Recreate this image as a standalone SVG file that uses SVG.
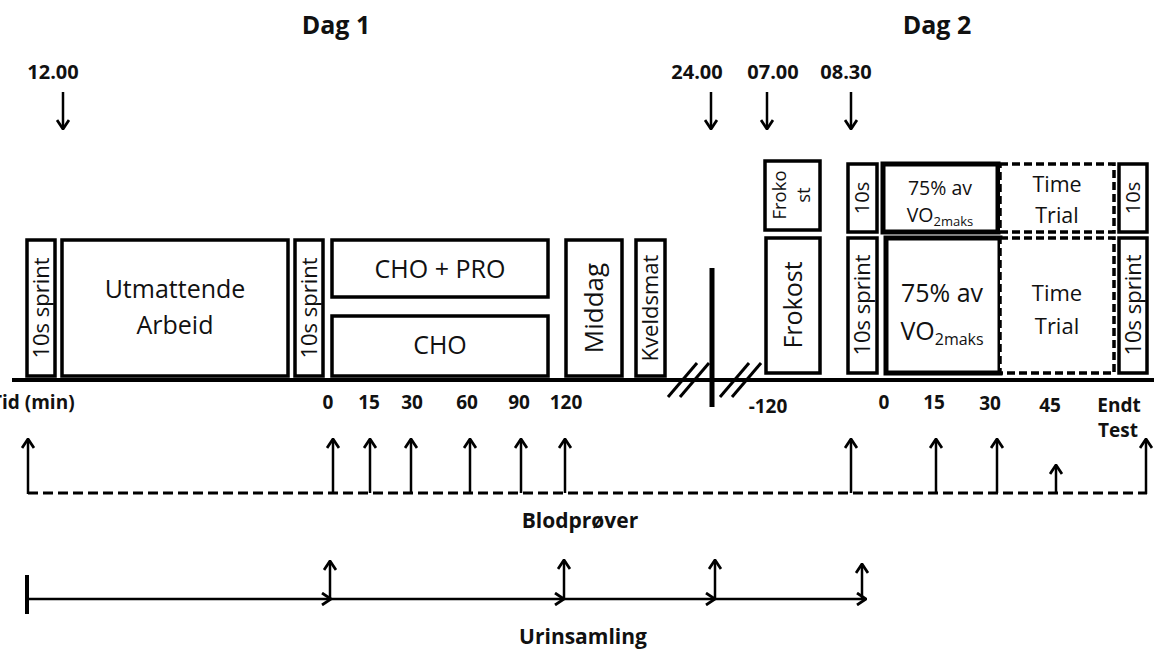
<svg xmlns="http://www.w3.org/2000/svg" width="1154" height="650" viewBox="0 0 1154 650">
<style>
.bx{fill:#fff;stroke:#000;stroke-width:3.5}
.bxt{fill:#fff;stroke:#000;stroke-width:5}
.dsh{fill:#fff;stroke:#000;stroke-width:3.5;stroke-dasharray:8 4}
.t{font-family:"Open Sans","Liberation Sans",sans-serif;fill:#111;text-anchor:middle}
.b{font-family:"Open Sans","Liberation Sans",sans-serif;font-weight:bold;fill:#111;text-anchor:middle}
.ln{stroke:#000;stroke-width:2.5;fill:none}
.ar{stroke:#000;stroke-width:2.5;fill:none;marker-end:url(#ah)}
</style>
<defs>
<marker id="ah" viewBox="0 0 12 14" refX="11" refY="7" markerWidth="12" markerHeight="14" markerUnits="userSpaceOnUse" orient="auto">
<path d="M2,1 L11,7 L2,13" fill="none" stroke="#000" stroke-width="2.8"/>
</marker>
</defs>
<rect width="1154" height="650" fill="#fff"/>

<g id="titles">
<text class="b" x="336" y="34" font-size="25">Dag 1</text>
<text class="b" x="937" y="34" font-size="25">Dag 2</text>
<text class="b" x="53" y="79" font-size="20">12.00</text>
<text class="b" x="697" y="79" font-size="20">24.00</text>
<text class="b" x="773" y="79" font-size="20">07.00</text>
<text class="b" x="846" y="79" font-size="20">08.30</text>
</g>

<g id="axis">
<line x1="12" y1="380" x2="1154" y2="380" stroke="#000" stroke-width="4"/>
<line x1="712" y1="268" x2="712" y2="407" stroke="#000" stroke-width="5"/>
<line x1="668" y1="397" x2="697" y2="363" stroke="#000" stroke-width="3"/>
<line x1="680" y1="397" x2="709" y2="363" stroke="#000" stroke-width="3"/>
<line x1="720" y1="397" x2="749" y2="363" stroke="#000" stroke-width="3"/>
<line x1="732" y1="397" x2="761" y2="363" stroke="#000" stroke-width="3"/>
<text class="b" x="-9" y="409" font-size="19" style="text-anchor:start">Tid (min)</text>
<text class="b" x="328" y="409" font-size="19">0</text>
<text class="b" x="369" y="409" font-size="19">15</text>
<text class="b" x="412" y="409" font-size="19">30</text>
<text class="b" x="467" y="409" font-size="19">60</text>
<text class="b" x="519" y="409" font-size="19">90</text>
<text class="b" x="566" y="409" font-size="19">120</text>
<text class="b" x="768" y="413" font-size="19">-120</text>
<text class="b" x="884" y="409" font-size="19">0</text>
<text class="b" x="934" y="409" font-size="19">15</text>
<text class="b" x="990" y="410" font-size="19">30</text>
<text class="b" x="1050" y="412" font-size="19">45</text>
<text class="b" x="1119" y="412" font-size="19">Endt</text>
<text class="b" x="1118" y="437" font-size="19">Test</text>
</g>

<g id="sprint1">
<rect class="bx" x="27" y="240" width="28" height="136"/>
<text class="t" font-size="22" transform="translate(41,308) rotate(-90)" y="8">10s sprint</text>
</g>
<g id="utmattende">
<rect class="bx" x="62" y="240" width="226" height="136"/>
<text class="t" x="175" y="298" font-size="25">Utmattende</text>
<text class="t" x="175" y="334" font-size="25">Arbeid</text>
</g>
<g id="sprint2">
<rect class="bx" x="295" y="240" width="28" height="136"/>
<text class="t" font-size="22" transform="translate(309,308) rotate(-90)" y="8">10s sprint</text>
</g>
<g id="choPro">
<rect class="bx" x="332" y="240" width="216" height="57"/>
<text class="t" x="440" y="278" font-size="25">CHO + PRO</text>
</g>
<g id="cho">
<rect class="bx" x="332" y="316" width="216" height="60"/>
<text class="t" x="440" y="354" font-size="25">CHO</text>
</g>
<g id="middag">
<rect class="bx" x="566" y="240" width="56" height="136"/>
<text class="t" font-size="26" transform="translate(594,308) rotate(-90)" y="9">Middag</text>
</g>
<g id="kveldsmat">
<rect class="bx" x="636" y="240" width="29" height="136"/>
<text class="t" font-size="22" transform="translate(650,308) rotate(-90)" y="8">Kveldsmat</text>
</g>
<g id="frokostTop">
<rect class="bx" x="765" y="161" width="55" height="69"/>
<text class="t" font-size="18.5" transform="translate(792,195) rotate(-90)" y="-6">Froko</text>
<text class="t" font-size="18.5" transform="translate(792,195) rotate(-90)" y="18">st</text>
</g>
<g id="frokost">
<rect class="bx" x="766" y="238" width="54" height="135"/>
<text class="t" font-size="25" transform="translate(793,305) rotate(-90)" y="9">Frokost</text>
</g>
<g id="sprint3top">
<rect class="bx" x="848" y="164" width="29" height="68"/>
<text class="t" font-size="20" transform="translate(862,198) rotate(-90)" y="7">10s</text>
</g>
<g id="vo2top">
<rect class="bxt" x="883" y="164" width="115" height="68"/>
<text class="t" x="940" y="195" font-size="19.5">75% av</text>
<text class="t" x="940" y="222" font-size="19.5">VO<tspan font-size="13" dy="4">2maks</tspan></text>
</g>
<g id="ttTop">
<rect class="dsh" x="1000" y="164" width="114" height="68"/>
<text class="t" x="1057" y="192" font-size="21.5">Time</text>
<text class="t" x="1057" y="223" font-size="21.5">Trial</text>
</g>
<g id="sprint4top">
<rect class="bx" x="1119" y="164" width="28" height="68"/>
<text class="t" font-size="20" transform="translate(1133,198) rotate(-90)" y="7">10s</text>
</g>
<g id="sprint3">
<rect class="bx" x="848" y="238" width="29" height="135"/>
<text class="t" font-size="22" transform="translate(862,305) rotate(-90)" y="8">10s sprint</text>
</g>
<g id="vo2">
<rect class="bxt" x="886" y="238" width="114" height="135"/>
<text class="t" x="942" y="302" font-size="25">75% av</text>
<text class="t" x="942" y="340" font-size="25">VO<tspan font-size="16" dy="5">2maks</tspan></text>
</g>
<g id="tt">
<rect class="dsh" x="1000" y="238" width="114" height="135"/>
<text class="t" x="1057" y="301" font-size="22">Time</text>
<text class="t" x="1057" y="334" font-size="22">Trial</text>
</g>
<g id="sprint4">
<rect class="bx" x="1119" y="238" width="28" height="135"/>
<text class="t" font-size="22" transform="translate(1133,305) rotate(-90)" y="8">10s sprint</text>
</g>

<g id="connectors">
<line class="ar" x1="63" y1="92" x2="63" y2="129"/>
<line class="ar" x1="711" y1="92" x2="711" y2="129"/>
<line class="ar" x1="767" y1="92" x2="767" y2="129"/>
<line class="ar" x1="851" y1="92" x2="851" y2="129"/>

<line x1="28" y1="493" x2="1147" y2="493" stroke="#000" stroke-width="3" stroke-dasharray="10 5"/>
<line class="ar" x1="28" y1="494" x2="28" y2="439"/>
<line class="ar" x1="333" y1="493" x2="333" y2="439"/>
<line class="ar" x1="370" y1="493" x2="370" y2="439"/>
<line class="ar" x1="411" y1="493" x2="411" y2="439"/>
<line class="ar" x1="470" y1="493" x2="470" y2="439"/>
<line class="ar" x1="521" y1="493" x2="521" y2="439"/>
<line class="ar" x1="565" y1="493" x2="565" y2="439"/>
<line class="ar" x1="851" y1="493" x2="851" y2="439"/>
<line class="ar" x1="936" y1="493" x2="936" y2="439"/>
<line class="ar" x1="997" y1="493" x2="997" y2="439"/>
<line class="ar" x1="1056" y1="493" x2="1056" y2="465"/>
<line class="ar" x1="1146" y1="494" x2="1146" y2="439"/>

<line x1="27" y1="575" x2="27" y2="614" stroke="#000" stroke-width="4"/>
<line class="ar" x1="28" y1="599" x2="331" y2="599"/>
<line class="ar" x1="331" y1="599" x2="564" y2="599"/>
<line class="ar" x1="564" y1="599" x2="715" y2="599"/>
<line class="ar" x1="715" y1="599" x2="866" y2="599"/>
<line class="ar" x1="330" y1="599" x2="330" y2="561"/>
<line class="ar" x1="564" y1="599" x2="564" y2="560"/>
<line class="ar" x1="715" y1="599" x2="715" y2="560"/>
<line class="ar" x1="862" y1="599" x2="862" y2="564"/>
</g>

<g id="legend">
<text class="b" x="580" y="528" font-size="21">Blodprøver</text>
<text class="b" x="583" y="644" font-size="21">Urinsamling</text>
</g>
</svg>
